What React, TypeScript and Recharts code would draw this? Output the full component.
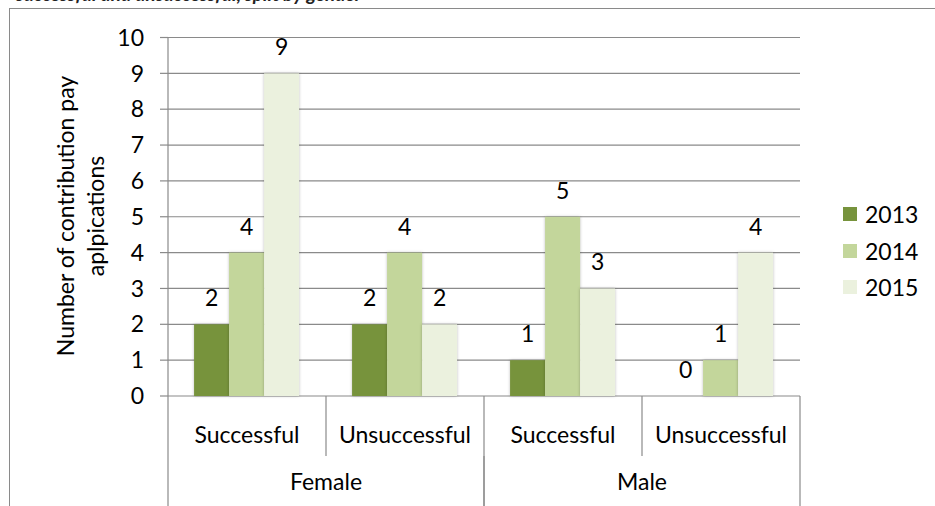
import React from 'react';
import { BarChart, Bar, XAxis, YAxis, CartesianGrid, Legend, LabelList } from 'recharts';

const subCategories = ['Successful', 'Unsuccessful', 'Successful', 'Unsuccessful'];
const genders = ['Female', 'Female', 'Male', 'Male'];
const values2013 = [2, 2, 1, 0];
const values2014 = [4, 4, 5, 1];
const values2015 = [9, 2, 3, 4];
const yTicks = [0, 1, 2, 3, 4, 5, 6, 7, 8, 9, 10];
const seriesNames = ['2013', '2014', '2015'];
const seriesColors = ['#77933C', '#C3D69B', '#EBF1DE'];
const yAxisTitle = ['Number of contribution pay', 'aplpications'];
const topCaption = 'successful and unsuccessful, split by gender';

const data = subCategories.map((s, i) => ({
  idx: i,
  sub: s,
  gender: genders[i],
  '2013': values2013[i],
  '2014': values2014[i],
  '2015': values2015[i],
}));

const FONT = 'Lato, "Open Sans", sans-serif';
const FS = 23;
const GRID = '#8a8a8a';

const SubTick = (props: any) => {
  const { x, y, payload, index, visibleTicksCount } = props;
  const half = payload && payload.offset ? payload.offset : 79;
  const last = index === visibleTicksCount - 1;
  return (
    <g>
      <line x1={x - half} y1={y} x2={x - half} y2={y + 60} stroke={GRID} strokeWidth={1.2} />
      {last && <line x1={x + half} y1={y} x2={x + half} y2={y + 60} stroke={GRID} strokeWidth={1.2} />}
      <text x={x} y={y + 38} textAnchor="middle" dominantBaseline="central" fontFamily={FONT} fontSize={FS} fill="#000">
        {subCategories[index] ?? payload.value}
      </text>
    </g>
  );
};

const GroupTick = (props: any) => {
  const { x, y, payload } = props;
  const half = payload && payload.offset ? payload.offset : 158;
  return (
    <g>
      <line x1={x - half} y1={y} x2={x - half} y2={y + 60} stroke={GRID} strokeWidth={1.2} />
      <line x1={x + half} y1={y} x2={x + half} y2={y + 60} stroke={GRID} strokeWidth={1.2} />
      <text x={x} y={y + 25} textAnchor="middle" dominantBaseline="central" fontFamily={FONT} fontSize={FS} fill="#000">
        {payload.value}
      </text>
    </g>
  );
};

const BarShape = (props: any) => {
  const { x, y, width, height, fill } = props;
  if (!height || height <= 0) return null;
  return (
    <rect x={x} y={y} width={width} height={height} fill={fill}
      style={{ filter: 'drop-shadow(0px 0px 1.5px rgba(0,0,0,0.25))' }} />
  );
};

const LegendContent = () => (
  <div style={{ fontFamily: FONT, fontSize: FS, color: '#000' }}>
    {seriesNames.map((n, i) => (
      <div key={n} style={{ display: 'flex', alignItems: 'center', height: 36.5 }}>
        <span style={{ display: 'inline-block', width: 14, height: 14, background: seriesColors[i], marginRight: 8 }} />
        <span>{n}</span>
      </div>
    ))}
  </div>
);

const YTitle = () => {
  const cx = 80;
  const cy = 216;
  return (
    <text transform={`translate(${cx},${cy}) rotate(-90)`} textAnchor="middle" fontFamily={FONT} fontSize={FS} fill="#000">
      <tspan x={0} dy={-6}>{yAxisTitle[0]}</tspan>
      <tspan x={0} dy={30}>{yAxisTitle[1]}</tspan>
    </text>
  );
};

export default function App() {
  return (
    <div style={{ position: 'absolute', left: 0, top: 0, width: 935, height: 506, overflow: 'hidden', background: '#fff' }}>
      <svg width={935} height={10} style={{ position: 'absolute', left: 0, top: 0 }}>
        <text x={16} y={0.5} fontFamily={FONT} fontStyle="italic" fontWeight="bold" fontSize={19} fill="#222">
          {topCaption}
        </text>
      </svg>
      <div style={{ position: 'absolute', left: 9, top: 8, width: 940, height: 510, borderLeft: '1.5px solid #8a8a8a', borderTop: '1.5px solid #8a8a8a' }} />
      <div style={{ position: 'absolute', left: 0, top: 0 }}>
        <BarChart width={935} height={506} data={data} margin={{ top: 37.5, right: 135, bottom: 0, left: 0 }}
          barCategoryGap="16.5%" barGap={0}>
          <CartesianGrid vertical={false} stroke={GRID} strokeWidth={1.2} />
          <XAxis dataKey="sub" height={60} tickLine={false} tickSize={0} tickMargin={0} axisLine={false}
            interval={0} tick={<SubTick />} />
          <XAxis xAxisId="g" dataKey="gender" allowDuplicatedCategory={false} height={50} tickLine={false}
            tickSize={0} tickMargin={0} axisLine={false} interval={0} tick={<GroupTick />} />
          <YAxis width={168} domain={[0, 10]} ticks={yTicks} interval={0} tickSize={8} tickMargin={16}
            stroke={GRID} strokeWidth={1.2} tick={{ fill: '#000', fontFamily: FONT, fontSize: FS }}
            label={<YTitle />} />
          <Legend layout="vertical" align="center" verticalAlign="middle" content={<LegendContent />}
            wrapperStyle={{ left: 843, top: 196, width: 90, height: 110 }} />
          {seriesNames.map((n, i) => (
            <Bar key={n} dataKey={n} fill={seriesColors[i]} isAnimationActive={false} shape={<BarShape />}>
              <LabelList dataKey={n} position="top" offset={18} fill="#000" fontFamily={FONT} fontSize={FS} />
            </Bar>
          ))}
        </BarChart>
      </div>
    </div>
  );
}
